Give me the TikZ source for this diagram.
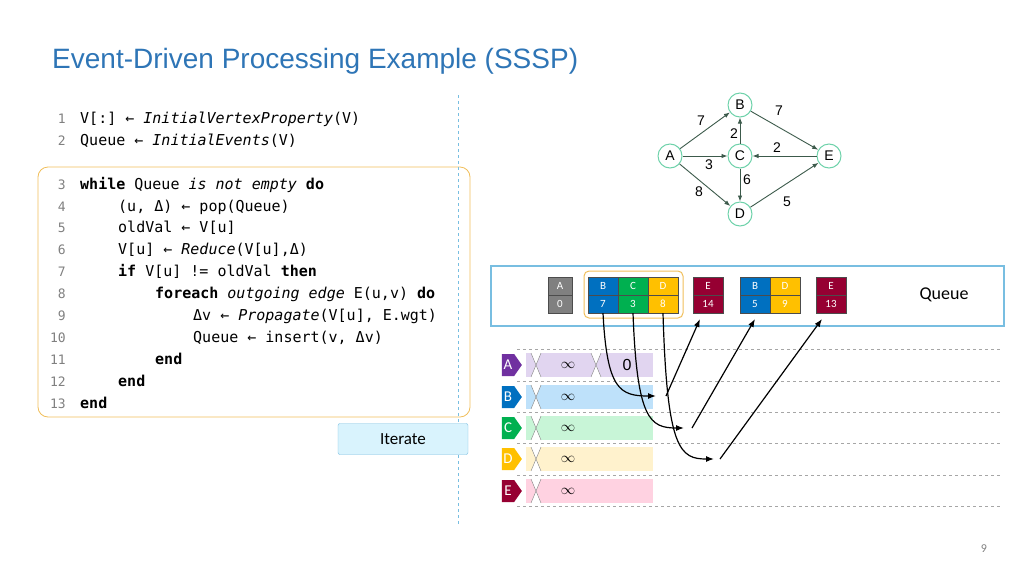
\documentclass[tikz,border=0pt]{standalone}
\usepackage{fontspec}
\setmainfont{Liberation Sans}
\setmonofont{DejaVu Sans Mono}
\newfontfamily\carl{Carlito}
\usetikzlibrary{arrows.meta,shapes.symbols}
\definecolor{ttl}{RGB}{46,117,182}
\definecolor{cA}{RGB}{112,48,160}\definecolor{cB}{RGB}{0,112,192}
\definecolor{cC}{RGB}{0,176,80}\definecolor{cD}{RGB}{255,192,0}
\definecolor{cE}{RGB}{150,0,50}\definecolor{cG}{RGB}{128,128,128}
\definecolor{bA}{RGB}{225,213,240}\definecolor{bB}{RGB}{190,225,250}
\definecolor{bC}{RGB}{200,245,215}\definecolor{bD}{RGB}{255,242,205}
\definecolor{bE}{RGB}{255,210,225}
\definecolor{mint}{RGB}{110,210,170}\definecolor{edg}{RGB}{60,90,75}
\definecolor{orng}{RGB}{240,190,90}\definecolor{qb}{RGB}{120,190,225}
\begin{document}
\begin{tikzpicture}[x=1pt,y=-1pt,
 code/.style={anchor=base west,font=\ttfamily\fontsize{15}{16}\selectfont,inner sep=0},
 num/.style={anchor=base east,font=\ttfamily\fontsize{13}{14}\selectfont,text=gray,inner sep=0},
 gn/.style={circle,draw=mint,line width=1pt,fill=white,minimum size=24pt,inner sep=0,font=\fontsize{14}{16}\selectfont},
 ge/.style={-{Latex[length=6pt]},draw=edg,line width=0.9pt},
 wl/.style={font=\fontsize{14}{16}\selectfont},
 cell/.style={draw=black!70,minimum height=18pt,inner sep=0,text=white,font=\carl\fontsize{11}{12}\selectfont},
 tag/.style={signal,signal to=east,signal pointer angle=110,minimum width=20pt,minimum height=22pt,inner sep=0,text=white,font=\carl\fontsize{15}{16}\selectfont},
 bar/.style={minimum width=127pt,minimum height=24pt,inner sep=0,anchor=west},
 inf/.style={font=\fontsize{15}{16}\selectfont},
 arr/.style={-{Latex[length=8pt,width=6pt]},line width=1.2pt}]
\useasboundingbox (0,0) rectangle (1024,576);
\node[anchor=base west,text=ttl,font=\fontsize{28}{32}\selectfont,inner sep=0] (title) at (52,68) {Event-Driven Processing Example (SSSP)};
% code
\draw[orng,rounded corners=10pt,line width=0.8pt] (38,167) rectangle (470,417);
\draw[qb,dashed] (458,95) -- (458,525);
\foreach \n/\y in {1/123,2/145,3/189,4/211,5/232,6/254,7/276,8/298,9/320,10/342,11/364,12/386,13/408}
  \node[num] (n\n) at (66,\y) {\n};
\node[code] (l1) at (80,123) {V[:] ← \textit{InitialVertexProperty}(V)};
\node[code] (l2) at (80,145) {Queue ← \textit{InitialEvents}(V)};
\node[code] (l3) at (80,189) {\textbf{while} Queue \textit{is not empty} \textbf{do}};
\node[code] (l4) at (118,211) {(u, Δ) ← pop(Queue)};
\node[code] (l5) at (118,232) {oldVal ← V[u]};
\node[code] (l6) at (118,254) {V[u] ← \textit{Reduce}(V[u],Δ)};
\node[code] (l7) at (118,276) {\textbf{if} V[u] != oldVal \textbf{then}};
\node[code] (l8) at (155,298) {\textbf{foreach} \textit{outgoing edge} E(u,v) \textbf{do}};
\node[code] (l9) at (193,320) {Δv ← \textit{Propagate}(V[u], E.wgt)};
\node[code] (l10) at (193,342) {Queue ← insert(v, Δv)};
\node[code] (l11) at (155,364) {\textbf{end}};
\node[code] (l12) at (118,386) {\textbf{end}};
\node[code] (l13) at (80,408) {\textbf{end}};
\node[draw=qb,fill=cyan!15,rounded corners=2pt,minimum width=130pt,minimum height=31pt,font=\carl\fontsize{17}{18}\selectfont] (it) at (403,439) {Iterate};
% graph
\node[gn] (A) at (670,156) {A};
\node[gn] (B) at (740,105) {B};
\node[gn] (C) at (740,156) {C};
\node[gn] (D) at (740,214) {D};
\node[gn] (E) at (829,156) {E};
\draw[ge] (A)--(B); \draw[ge] (A)--(C); \draw[ge] (A)--(D);
\draw[ge] (B)--(E); \draw[ge] (C)--(B); \draw[ge] (E)--(C);
\draw[ge] (C)--(D); \draw[ge] (D)--(E);
\node[wl] (w1) at (701,121) {7}; \node[wl] (w2) at (779,111) {7};
\node[wl] (w3) at (734,134) {2}; \node[wl] (w4) at (777,148) {2};
\node[wl] (w5) at (709,165) {3}; \node[wl] (w6) at (747,180) {6};
\node[wl] (w7) at (699,192) {8}; \node[wl] (w8) at (787,202) {5};
% queue
\draw[qb,line width=1.2pt] (491,266) rectangle (1004,326);
\node[font=\carl\fontsize{18}{20}\selectfont] (ql) at (944,295) {Queue};
\draw[orng,rounded corners=5pt,line width=1pt] (584,271) rectangle (683,318);
\foreach \nm/\x/\w/\c/\a/\b in {qA/560/24/cG/A/0,qB/603/30/cB/B/7,qC/633/30/cC/C/3,qD/663/30/cD/D/8,qE/708/30/cE/E/14,qB2/755/30/cB/B/5,qD2/785/30/cD/D/9,qE2/831/30/cE/E/13}{
  \node[cell,fill=\c,minimum width=\w pt] (\nm t) at (\x,286) {\a};
  \node[cell,fill=\c,minimum width=\w pt] (\nm b) at (\x,304) {\b};}
% rows
\foreach \y in {349,381,412,443,475,506}
  \draw[gray!70,dashed,line width=0.5pt] (517,\y) -- (1002,\y);
\foreach \r/\y/\c/\f in {A/365/cA/bA,B/397/cB/bB,C/428/cC/bC,D/459/cD/bD,E/491/cE/bE}{
  \node[tag,fill=\c] (t\r) at (508,\y) {\r};
  \node[bar,fill=\f] (bar\r) at (526,\y) {};
  \fill[white] (531,\y-12) -- (541,\y-12) -- (536,\y) -- cycle;
  \fill[white] (531,\y+12) -- (541,\y+12) -- (536,\y) -- cycle;
  \draw[gray,line width=0.4pt] (531,\y-12) -- (541,\y+12) (541,\y-12) -- (531,\y+12);
  \node[inf] (inf\r) at (568,\y) {$\infty$};}
\fill[white] (591,353) -- (601,353) -- (596,365) -- cycle;
\fill[white] (591,377) -- (601,377) -- (596,365) -- cycle;
\draw[gray,line width=0.4pt] (591,353) -- (601,377) (601,353) -- (591,377);
\node[font=\fontsize{16}{18}\selectfont] (zero) at (627,365) {0};
% arrows
\coordinate (pB) at (656,396); \coordinate (pC) at (684,428); \coordinate (pD) at (714,459);
\draw[arr] (qBb.south) .. controls (607,390) and (620,396) .. (pB);
\draw[arr] (qCb.south) .. controls (637,420) and (650,428) .. (pC);
\draw[arr] (qDb.south) .. controls (667,450) and (680,459) .. (pD);
\coordinate (sB) at (666,396); \coordinate (sC) at (692,428); \coordinate (sD) at (720,459);
\draw[arr] (sB) -- (700,319);
\draw[arr] (sC) -- (755,319);
\draw[arr] (sD) -- (822,319);
\node[text=gray,font=\carl\fontsize{12}{14}\selectfont] (pg) at (984,549) {9};
\end{tikzpicture}
\end{document}
